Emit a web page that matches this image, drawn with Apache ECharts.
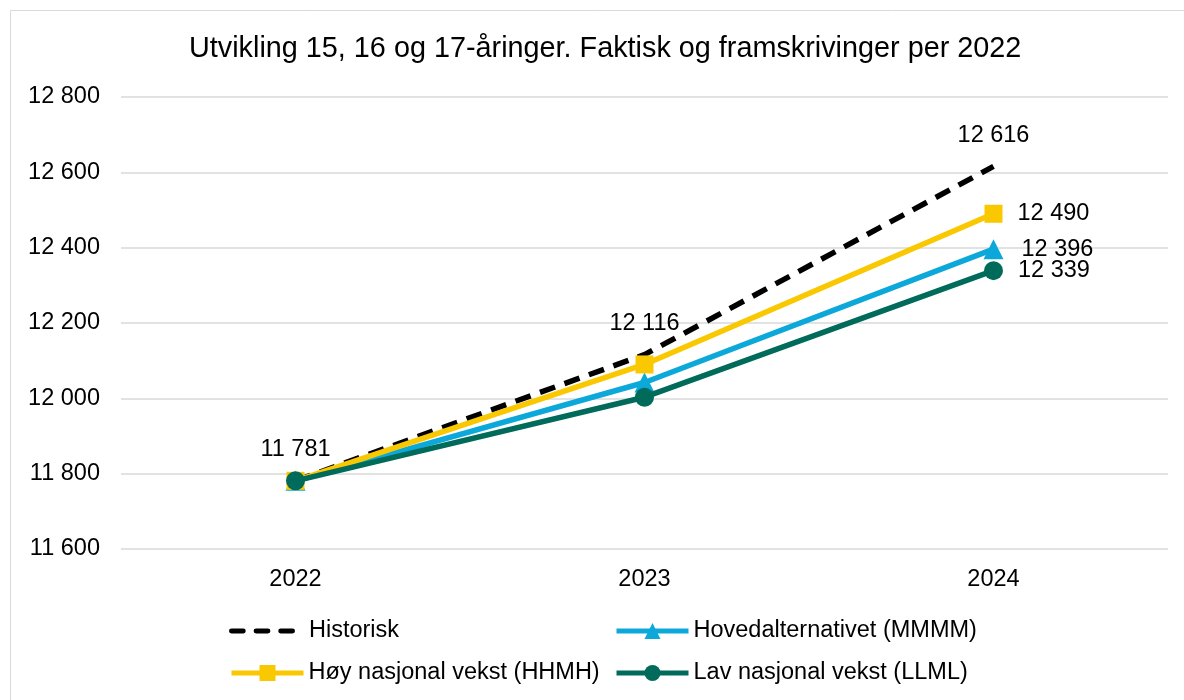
<!DOCTYPE html>
<html>
<head>
<meta charset="utf-8">
<script src="https://cdn.jsdelivr.net/npm/echarts@6/dist/echarts.min.js"></script>
<style>
  html, body { margin: 0; padding: 0; background: #fff; }
  #chart { width: 1184px; height: 700px; }
</style>
</head>
<body>
<div id="chart"></div>
<script>
// data
var years = ['2022', '2023', '2024'];
var historisk = [11781, 12116, 12616];
var hoved = [11781, 12042, 12396];
var hoy = [11781, 12090, 12490];
var lav = [11781, 12003, 12339];
var yTicks = { min: 11600, max: 12800, step: 200 };

function fmt(v) {
    // 12800 -> "12 800"
    return String(v).replace(/\B(?=(\d{3})+(?!\d))/g, ' ');
}

var myChart = echarts.init(document.getElementById('chart'));
var font = 'Liberation Sans, Arial, sans-serif';
var fs = 23.5;

// only the last point gets a label for the projection series
function lastLabel(arr, offset) {
    return arr.map(function (v, i) {
        if (i !== arr.length - 1) return v;
        return {
            value: v,
            label: {
                show: true,
                position: 'right',
                distance: 15,
                offset: offset || [0, 0],
                formatter: function (p) { return fmt(p.value); },
                fontSize: fs,
                color: '#000',
                fontFamily: font
            }
        };
    });
}

function legendAt(name, left, top, width, extra) {
    var l = {
        left: left,
        top: top,
        padding: 0,
        itemWidth: width,
        itemHeight: 20,
        itemGap: 0,
        lineStyle: { width: 5 },
        textStyle: { fontSize: fs, color: '#000', fontFamily: font },
        data: [name]
    };
    return Object.assign(l, extra || {});
}

var dashIcon = 'path://M2,0h12a2,2 0 0 1 0,5h-12a2,2 0 0 1 0,-5z' +
    'M27,0h12a2,2 0 0 1 0,5h-12a2,2 0 0 1 0,-5z' +
    'M52,0h12a2,2 0 0 1 0,5h-12a2,2 0 0 1 0,-5z';

var option = {
    animation: false,
    backgroundColor: '#fff',
    textStyle: { fontFamily: font },
    graphic: [{
        type: 'rect',
        shape: { x: 10.5, y: 10.5, width: 1200, height: 720 },
        style: { fill: 'none', stroke: '#d9d9d9', lineWidth: 1 },
        silent: true
    }],
    title: {
        text: 'Utvikling 15, 16 og 17-åringer. Faktisk og framskrivinger per 2022',
        left: 184,
        top: 30,
        textStyle: { fontSize: 28.8, fontWeight: 'normal', color: '#000', fontFamily: font }
    },
    grid: { left: 121, right: 16, top: 97, bottom: 151 },
    legend: [
        legendAt({ name: 'Historisk', icon: dashIcon, itemStyle: { color: '#000' } }, 229, 619, 66,
            { itemHeight: 5, textStyle: { fontSize: fs, color: '#000', fontFamily: font, padding: [0, 0, 0, 9] } }),
        legendAt('Hovedalternativet (MMMM)', 614, 619, 72),
        legendAt('Høy nasjonal vekst (HHMH)', 229, 661, 72),
        legendAt('Lav nasjonal vekst (LLML)', 614, 661, 72)
    ],
    xAxis: {
        type: 'category',
        data: years,
        boundaryGap: true,
        axisLine: { show: false },
        axisTick: { show: false },
        axisLabel: { fontSize: fs, color: '#000', margin: 19, fontFamily: font }
    },
    yAxis: {
        type: 'value',
        min: yTicks.min,
        max: yTicks.max,
        interval: yTicks.step,
        axisLine: { show: false },
        axisTick: { show: false },
        splitLine: { lineStyle: { color: '#d9d9d9', width: 1.5 } },
        axisLabel: {
            fontSize: fs, color: '#000', margin: 21, fontFamily: font,
            padding: [4, 0, 0, 0],
            formatter: function (v) { return fmt(v); }
        }
    },
    series: [
        {
            name: 'Historisk',
            type: 'line',
            data: historisk,
            symbol: 'circle',
            symbolSize: 0,
            z: 1,
            itemStyle: { color: '#000' },
            lineStyle: { color: '#000', width: 5.5, type: [16, 10] },
            label: {
                show: true,
                position: 'top',
                distance: 19,
                fontSize: fs,
                color: '#000',
                fontFamily: font,
                formatter: function (p) { return fmt(p.value); }
            }
        },
        {
            name: 'Hovedalternativet (MMMM)',
            type: 'line',
            data: lastLabel(hoved, [3, 0]),
            symbol: 'triangle',
            symbolSize: 20,
            z: 2,
            itemStyle: { color: '#0ca8da' },
            lineStyle: { color: '#0ca8da', width: 5.5 }
        },
        {
            name: 'Høy nasjonal vekst (HHMH)',
            type: 'line',
            data: lastLabel(hoy),
            symbol: 'rect',
            symbolSize: 18,
            z: 3,
            itemStyle: { color: '#fac800' },
            lineStyle: { color: '#fac800', width: 5.5 }
        },
        {
            name: 'Lav nasjonal vekst (LLML)',
            type: 'line',
            data: lastLabel(lav),
            symbol: 'circle',
            symbolSize: 19,
            z: 4,
            itemStyle: { color: '#006b5b' },
            lineStyle: { color: '#006b5b', width: 5.5 }
        }
    ]
};
myChart.setOption(option);
window.addEventListener('resize', function () { myChart.resize(); });
</script>
</body>
</html>
